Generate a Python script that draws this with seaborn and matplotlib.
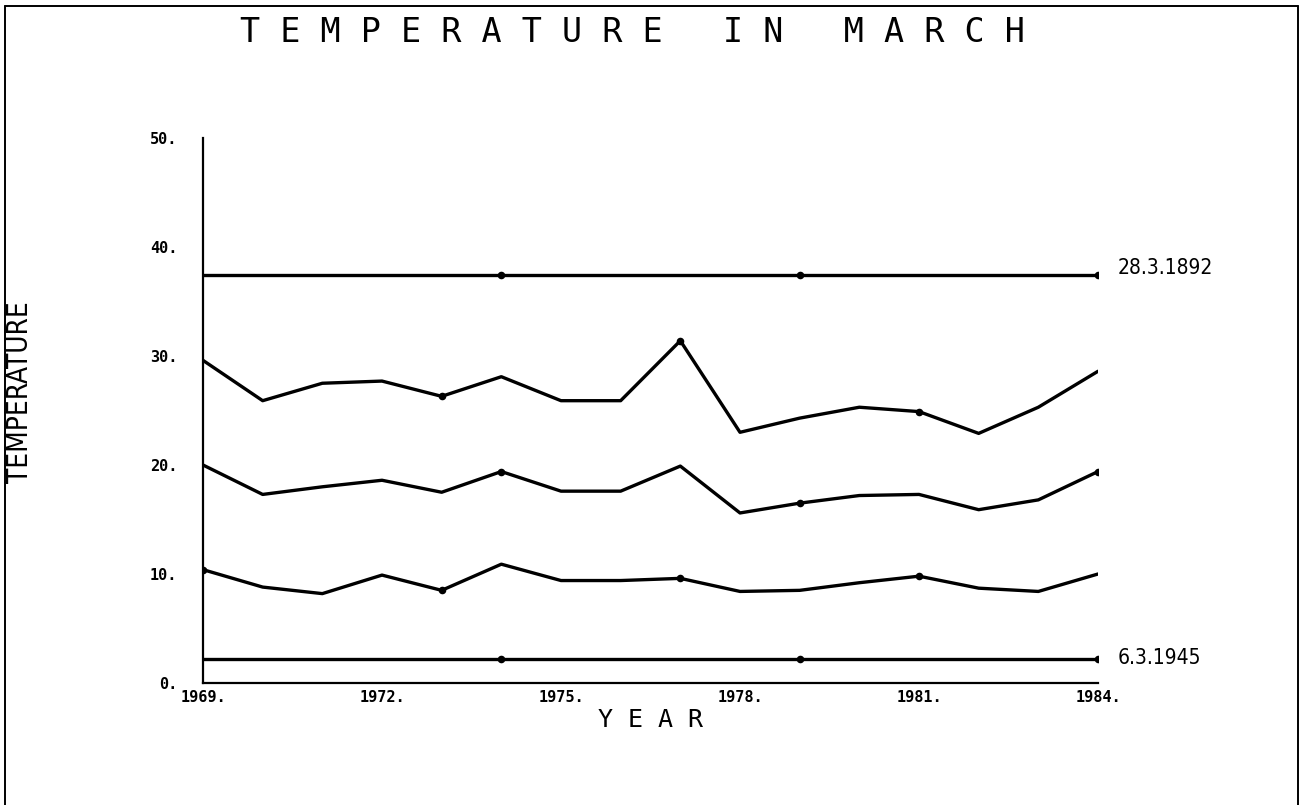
import matplotlib
matplotlib.use("Agg")
import matplotlib.pyplot as plt
from matplotlib.lines import Line2D
import numpy as np
import pandas as pd
import seaborn as sns

# ---- data -------------------------------------------------------------
years = list(range(1969, 1985))

record_high = 37.4          # 28.3.1892
record_low = 2.2            # 6.3.1945
record_high_label = "28.3.1892"
record_low_label = "6.3.1945"

mean_max = [29.6, 25.9, 27.5, 27.7, 26.3, 28.1, 25.9, 25.9,
            31.4, 23.0, 24.3, 25.3, 24.9, 22.9, 25.3, 28.6]
mean_temp = [20.0, 17.3, 18.0, 18.6, 17.5, 19.4, 17.6, 17.6,
             19.9, 15.6, 16.5, 17.2, 17.3, 15.9, 16.8, 19.4]
mean_min = [10.4, 8.8, 8.2, 9.9, 8.5, 10.9, 9.4, 9.4,
            9.6, 8.4, 8.5, 9.2, 9.8, 8.7, 8.4, 10.0]

# years carrying a plotted symbol on each curve
marks_high = [1974, 1979, 1984]
marks_max = [1973, 1977, 1981]
marks_mean = [1974, 1979, 1984]
marks_min = [1969, 1973, 1977, 1981]
marks_low = [1974, 1979, 1984]

y_ticks = [0, 10, 20, 30, 40, 50]
x_ticks = [1969, 1972, 1975, 1978, 1981, 1984]

title = "TEMPERATURE IN MARCH"
x_label = "YEAR"
y_label = "TEMPERATURE"

# ---- tidy table --------------------------------------------------------
series = {
    "record_high": ([record_high] * len(years), marks_high),
    "mean_max": (mean_max, marks_max),
    "mean": (mean_temp, marks_mean),
    "mean_min": (mean_min, marks_min),
    "record_low": ([record_low] * len(years), marks_low),
}
rows = []
for name, (vals, marks) in series.items():
    for yr, v in zip(years, vals):
        rows.append({"series": name, "year": yr, "temp": v, "marked": yr in marks})
df = pd.DataFrame(rows)

# ---- figure ------------------------------------------------------------
sns.set_theme(style="white")
plt.rcParams["font.family"] = ["DejaVu Sans"]

W, H = 1303, 805
fig = plt.figure(figsize=(W / 100, H / 100), dpi=100)
fig.patch.set_facecolor("white")
ax = fig.add_axes([203 / W, 1 - 683 / H, 895 / W, 545 / H])
ax.set_facecolor("white")

sns.lineplot(data=df, x="year", y="temp", units="series", estimator=None,
             color="black", linewidth=2.4, ax=ax, legend=False)
sns.scatterplot(data=df[df["marked"]], x="year", y="temp", color="black",
                s=30, edgecolor="black", linewidth=0, ax=ax, legend=False,
                zorder=3)

ax.set_xlim(1969, 1984)
ax.set_ylim(0, 50)
for side in ("top", "right"):
    ax.spines[side].set_visible(False)
for side in ("left", "bottom"):
    ax.spines[side].set_color("black")
    ax.spines[side].set_linewidth(1.6)

tick_font = dict(family="DejaVu Sans Mono", weight="bold", size=11)
ax.set_yticks(y_ticks)
ax.set_yticklabels([f"{v}." for v in y_ticks], fontdict=tick_font)
ax.set_xticks(x_ticks)
ax.set_xticklabels([f"{v}." for v in x_ticks], fontdict=tick_font)
ax.tick_params(axis="y", direction="inout", length=13, width=1.6,
               pad=12, colors="black")
ax.tick_params(axis="x", direction="inout", length=6, width=1.4,
               pad=2, colors="black")
ax.set_xlabel("")
ax.set_ylabel("")

# end-of-line labels for the two record lines
ax.annotate(record_high_label, xy=(1984, record_high), xytext=(14, 5),
            textcoords="offset points", ha="left", va="center",
            fontsize=15, family="DejaVu Sans", fontstretch="condensed",
            color="black")
ax.annotate(record_low_label, xy=(1984, record_low), xytext=(14, 1),
            textcoords="offset points", ha="left", va="center",
            fontsize=15, family="DejaVu Sans", fontstretch="condensed",
            color="black")

# plotter-style lettering: letter-spaced monospace
fig.text(632 / W, 1 - 33 / H, " ".join(title), ha="center", va="center",
         family="DejaVu Sans Mono", fontsize=24, color="black")
fig.text(650 / W, 1 - 720 / H, " ".join(x_label), ha="center", va="center",
         family="DejaVu Sans Mono", fontsize=18, color="black")
fig.text(20 / W, 1 - 392 / H, y_label, ha="center", va="center",
         rotation=90, family="DejaVu Sans", fontstretch="condensed",
         fontsize=20, color="black")

# page frame
frame = dict(color="black", linewidth=1.4, transform=fig.transFigure)
fig.add_artist(Line2D([5 / W, 5 / W], [0, 1 - 6 / H], **frame))
fig.add_artist(Line2D([5 / W, 1298 / W], [1 - 6 / H, 1 - 6 / H], **frame))
fig.add_artist(Line2D([1298 / W, 1298 / W], [1 - 6 / H, 0], **frame))

fig.savefig("out.png", dpi=100, facecolor="white")
